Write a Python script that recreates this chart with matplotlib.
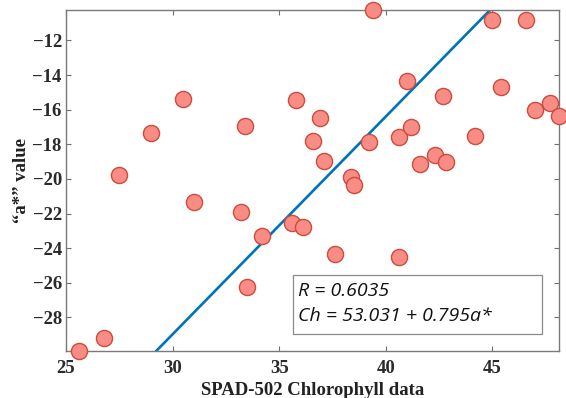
import numpy as np
import matplotlib.pyplot as plt
from matplotlib import rcParams
from matplotlib.patches import Rectangle

rcParams['font.family'] = ['serif']
rcParams['font.serif'] = ['Liberation Serif', 'DejaVu Serif']
rcParams['font.weight'] = 'bold'

# SPAD-502 readings and a* values
spad = [30.49, 29.0, 27.5, 33.39, 31.0, 35.78, 39.41, 45.0, 46.58, 40.99,
        45.39, 42.69, 47.0, 47.69, 48.12, 36.89, 36.59, 37.08, 39.19, 40.61,
        41.2, 44.19, 41.6, 42.3, 42.8, 38.38, 38.5, 33.19, 34.2, 33.49,
        26.8, 25.6, 35.58, 36.1, 37.61, 40.61]
a_star = [-15.37, -17.32, -19.78, -16.93, -21.32, -15.45, -10.24, -10.8, -10.84, -14.35,
          -14.66, -15.2, -16.0, -15.62, -16.35, -16.49, -17.78, -18.99, -17.84, -17.59,
          -17.01, -17.51, -19.13, -18.61, -19.03, -19.86, -20.34, -21.9, -23.27, -26.22,
          -29.17, -29.92, -22.52, -22.79, -24.31, -24.49]

# fitted relation Ch = b0 + b1 * a*
b0, b1 = 53.031, 0.795
r_value = 0.6035

xticks = [25, 30, 35, 40, 45]
yticks = [-28, -26, -24, -22, -20, -18, -16, -14, -12]

fig = plt.figure(figsize=(5.66, 3.98), dpi=100)
ax = fig.add_axes([0.1166, 0.1188, 0.8710, 0.8561])

xlo, xhi = min(spad), max(spad)
ylo, yhi = min(a_star), max(a_star)

yl = np.array([ylo, yhi])
ax.plot(b0 + b1 * yl, yl, color='#0072BD', lw=1.9, zorder=2)

ax.scatter(spad, a_star, s=135, facecolor='#F98C84', edgecolor='#CC4B3C',
           linewidth=1.0, clip_on=False, zorder=5)

ax.set_xlim(xlo, xhi)
ax.set_ylim(ylo, yhi)
ax.set_xticks(xticks)
ax.set_yticks(yticks)
ax.tick_params(direction='in', length=3.6, width=0.8, top=True, right=True,
               labelsize=13.5, colors='#707070', labelcolor='#2a2a2a')
ax.tick_params(axis='x', pad=7)
ax.tick_params(axis='y', pad=3)
for s in ax.spines.values():
    s.set_color('#7a7a7a')
    s.set_linewidth(1.0)

ax.set_xlabel('SPAD-502 Chlorophyll data', fontsize=13.5, fontweight='bold',
              color='#222222', labelpad=3)
ax.set_ylabel('\u201ca*\u201d value', fontsize=13.5, fontweight='bold',
              color='#222222', labelpad=2)

fig.patches.append(Rectangle((0.517, 0.161), 0.441, 0.148, transform=fig.transFigure,
                             facecolor='white', edgecolor='#8a8a8a', lw=0.9, zorder=6))
fig.text(0.527, 0.256, 'R = %.4f' % r_value, family='Open Sans', style='italic',
         weight='normal', fontsize=14, va='baseline', color='#111111', zorder=7)
fig.text(0.527, 0.194, 'Ch = %.3f + %.3fa*' % (b0, b1), family='Open Sans', style='italic',
         weight='normal', fontsize=14, va='baseline', color='#111111', zorder=7)

fig.savefig('out.png', dpi=100)
